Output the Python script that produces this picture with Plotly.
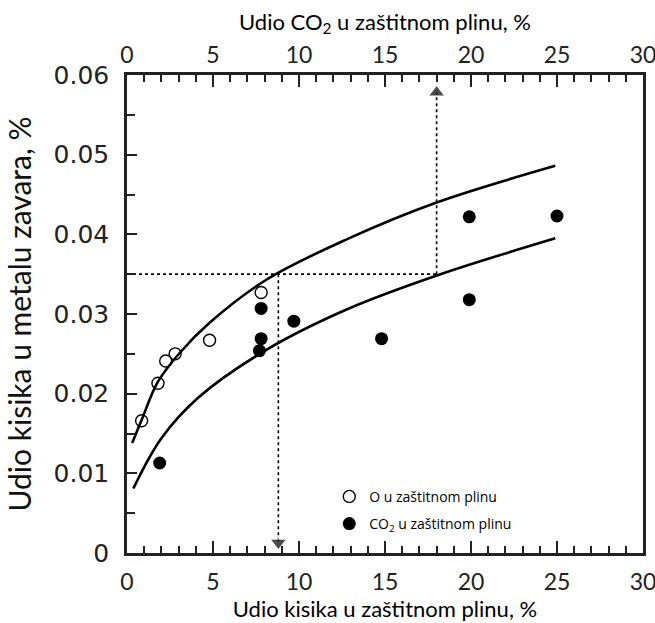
import plotly.graph_objects as go

# measured points
o2_x = [0.85, 1.8, 2.25, 2.8, 4.8, 7.8]
o2_y = [0.0166, 0.0213, 0.0241, 0.0250, 0.0267, 0.0327]

co2_x = [1.9, 7.8, 7.8, 7.7, 9.7, 14.8, 19.9, 19.9, 25.0]
co2_y = [0.0113, 0.0307, 0.0269, 0.0254, 0.0291, 0.0269, 0.0318, 0.0422, 0.0423]

# fitted curves
upper_x = [0.3, 0.85, 1.8, 3.1, 4.8, 8.1, 12.8, 18.0, 24.9]
upper_y = [0.0138, 0.0167, 0.0215, 0.0252, 0.0289, 0.0343, 0.0394, 0.0440, 0.0486]
lower_x = [0.37, 2.0, 4.2, 8.1, 12.8, 18.1, 24.9]
lower_y = [0.0081, 0.0144, 0.0196, 0.0255, 0.0306, 0.0349, 0.0395]

# guide lines
guide_level = 0.035
guide_x_o2 = 8.8
guide_x_co2 = 18.0
guide_top = 0.0578
guide_bottom = 0.0013

ytick_font = dict(family="DejaVu Sans", size=25, color="#222")
xtick_font = dict(family="Lato", size=23, color="#222")
title_font = dict(family="Lato", size=22, color="black")

fig = go.Figure()

for xs, ys in [(upper_x, upper_y), (lower_x, lower_y)]:
    fig.add_trace(go.Scatter(x=xs, y=ys, mode="lines", line_shape="spline",
                             line=dict(color="black", width=2.6), showlegend=False))

dot = dict(color="black", width=1.6, dash="dot")
fig.add_trace(go.Scatter(x=[0, guide_x_co2], y=[guide_level, guide_level], mode="lines",
                         line=dot, showlegend=False))
fig.add_trace(go.Scatter(x=[guide_x_co2, guide_x_co2], y=[guide_level, guide_top],
                         mode="lines+markers", line=dot,
                         marker=dict(symbol=["circle", "triangle-up"], size=[0, 14], color="black"),
                         showlegend=False))
fig.add_trace(go.Scatter(x=[guide_x_o2, guide_x_o2], y=[guide_level, guide_bottom],
                         mode="lines+markers", line=dot,
                         marker=dict(symbol=["circle", "triangle-down"], size=[0, 14], color="black"),
                         showlegend=False))

fig.add_trace(go.Scatter(x=o2_x, y=o2_y, mode="markers", name="O u zaštitnom plinu",
                         legendgroup="o2",
                         marker=dict(symbol="circle-open", size=12, color="black",
                                     line=dict(width=1.4, color="black"))))
fig.add_trace(go.Scatter(x=co2_x, y=co2_y, mode="markers", name="CO<sub>2</sub> u zaštitnom plinu",
                         legendgroup="co2",
                         marker=dict(symbol="circle", size=13, color="black")))

# invisible trace to activate the top axis
fig.add_trace(go.Scatter(x=[0], y=[0], xaxis="x2", mode="markers",
                         marker=dict(opacity=0), showlegend=False, hoverinfo="skip"))

axis_common = dict(range=[0, 30], dtick=5, ticks="inside", ticklen=12, tickwidth=2,
                   tickcolor="#222", showline=True, linecolor="#222", linewidth=2.5,
                   showgrid=False, zeroline=False, tickfont=xtick_font, automargin=False,
                   ticklabeloverflow="allow",
                   minor=dict(dtick=1, ticks="inside", ticklen=7, tickwidth=1.5, tickcolor="#222"))

fig.update_layout(
    width=655, height=623,
    margin=dict(l=127, r=12, t=75, b=70),
    paper_bgcolor="white", plot_bgcolor="white",
    xaxis=dict(**axis_common, ticklabelstandoff=7,
               title=dict(text="Udio kisika u zaštitnom plinu, %", font=title_font, standoff=8)),
    xaxis2=dict(**axis_common, overlaying="x", side="top",
                title=dict(text="Udio CO<sub>2</sub> u zaštitnom plinu, %", font=title_font, standoff=4)),
    yaxis=dict(range=[0, 0.06], dtick=0.01, ticks="inside", ticklen=10, tickwidth=2,
               tickcolor="#222", showline=True, linecolor="#222", linewidth=2.5, mirror=True,
               showgrid=False, zeroline=False, tickfont=ytick_font, automargin=False,
               ticklabelstandoff=10,
               minor=dict(dtick=0.005, ticks="inside", ticklen=8, tickwidth=1.5, tickcolor="#222"),
               title=dict(text="Udio kisika u metalu zavara, %",
                          font=dict(family="Lato", size=30, color="#111"), standoff=14)),
    legend=dict(x=0.392, y=0.151, xanchor="left", yanchor="top", bgcolor="rgba(0,0,0,0)",
                font=dict(family="Open Sans", size=14, color="black"), tracegroupgap=6,
                itemwidth=30),
    showlegend=True,
)

# drop the page's default body margin so the figure fills the window exactly
fig.write_html("out.html", config={"displayModeBar": False},
               post_script="document.body.style.margin='0';")
